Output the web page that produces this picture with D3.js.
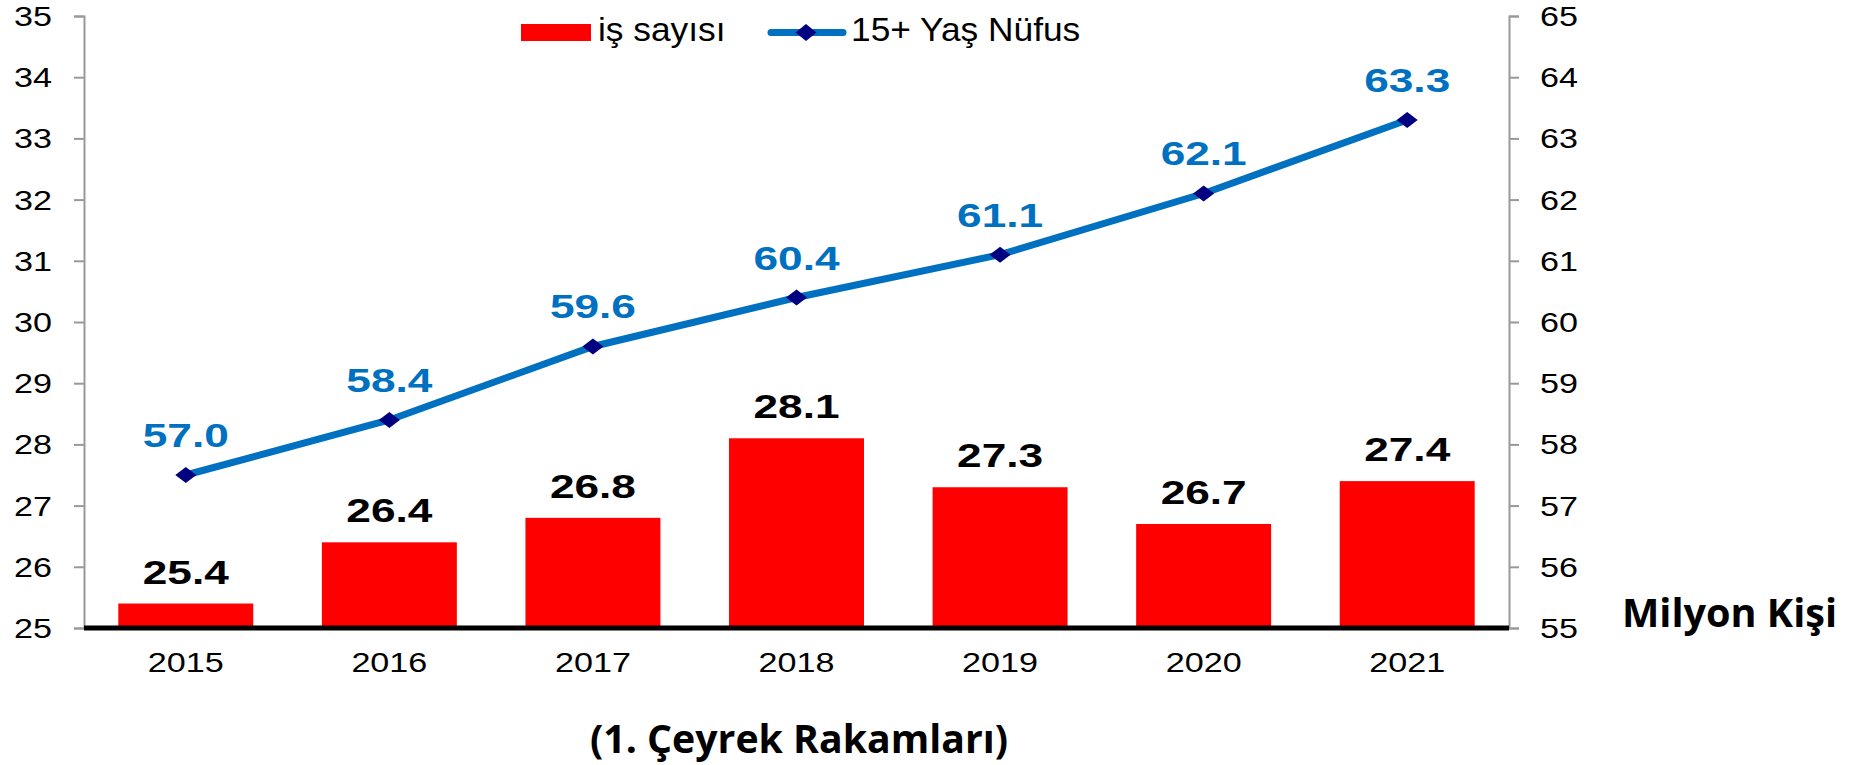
<!DOCTYPE html>
<html>
<head>
<meta charset="utf-8">
<script src="https://cdn.jsdelivr.net/npm/d3@7"></script>
<style>
  body { margin: 0; background: #fff; }
  text { font-family: "Liberation Sans", Arial, sans-serif; }
</style>
</head>
<body>
<div id="chart"></div>
<script>
// data
var years = ["2015", "2016", "2017", "2018", "2019", "2020", "2021"];
var jobs = [25.4, 26.4, 26.8, 28.1, 27.3, 26.7, 27.4];
var pop = [57.5, 58.4, 59.6, 60.4, 61.1, 62.1, 63.3];
var popLabels = ["57.0", "58.4", "59.6", "60.4", "61.1", "62.1", "63.3"];
var leftTicks = [25, 26, 27, 28, 29, 30, 31, 32, 33, 34, 35];
var rightTicks = [55, 56, 57, 58, 59, 60, 61, 62, 63, 64, 65];

var width = 1870, height = 765;
var plot = { left: 84, right: 1509, top: 16, bottom: 628 };
var sx = 1.22; // text in the original is stretched horizontally

var svg = d3.select("#chart")
    .append("svg")
    .attr("width", width)
    .attr("height", height);

var x = d3.scaleBand()
    .domain(years)
    .range([plot.left, plot.right])
    .paddingInner(0.337)
    .paddingOuter(0.1685);

var yL = d3.scaleLinear().domain([25, 35]).range([plot.bottom, plot.top]);
var yR = d3.scaleLinear().domain([55, 65]).range([plot.bottom, plot.top]);

// stretched text helper
function stext(g, px, py, str, size, weight, fill, anchor, k) {
    return g.append("text")
        .attr("transform", "translate(" + px + "," + py + ") scale(" + k + ",1)")
        .attr("text-anchor", anchor)
        .attr("font-size", size)
        .attr("font-weight", weight)
        .attr("fill", fill)
        .text(str);
}

// axes
svg.append("g")
    .attr("transform", "translate(" + plot.left + ",0)")
    .call(d3.axisLeft(yL).tickValues(leftTicks).tickSize(10).tickFormat(""));
svg.append("g")
    .attr("transform", "translate(" + plot.right + ",0)")
    .call(d3.axisRight(yR).tickValues(rightTicks).tickSize(10).tickFormat(""));
svg.selectAll(".domain, .tick line")
    .attr("stroke", "#999")
    .attr("stroke-width", 2);

leftTicks.forEach(function (t) {
    stext(svg, plot.left - 32, yL(t) + 10, t, 28, "normal", "#000", "end", sx);
});
rightTicks.forEach(function (t) {
    stext(svg, plot.right + 31, yR(t) + 10, t, 28, "normal", "#000", "start", sx);
});

// bars
svg.selectAll(".bar")
    .data(jobs)
    .enter().append("rect")
    .attr("class", "bar")
    .attr("x", function (d, i) { return x(years[i]); })
    .attr("y", function (d) { return yL(d); })
    .attr("width", x.bandwidth())
    .attr("height", function (d) { return yL(25) - yL(d); })
    .attr("fill", "#FF0000");

jobs.forEach(function (d, i) {
    stext(svg, x(years[i]) + x.bandwidth() / 2, yL(d) - 20, d.toFixed(1), 34, "bold", "#000", "middle", 1.3);
});

// baseline
svg.append("line")
    .attr("x1", plot.left).attr("x2", plot.right)
    .attr("y1", plot.bottom).attr("y2", plot.bottom)
    .attr("stroke", "#000")
    .attr("stroke-width", 5);

years.forEach(function (yr) {
    stext(svg, x(yr) + x.bandwidth() / 2, 672, yr, 28, "normal", "#000", "middle", sx);
});

// line
var line = d3.line()
    .x(function (d, i) { return x(years[i]) + x.bandwidth() / 2; })
    .y(function (d) { return yR(d); });

svg.append("path")
    .datum(pop)
    .attr("fill", "none")
    .attr("stroke", "#0070C0")
    .attr("stroke-width", 7)
    .attr("d", line);

function diamond(cx, cy, w, h) {
    return "M" + (cx - w) + "," + cy + "L" + cx + "," + (cy - h) +
        "L" + (cx + w) + "," + cy + "L" + cx + "," + (cy + h) + "Z";
}

svg.selectAll(".pt")
    .data(pop)
    .enter().append("path")
    .attr("class", "pt")
    .attr("d", function (d, i) { return diamond(x(years[i]) + x.bandwidth() / 2, yR(d), 10.5, 8); })
    .attr("fill", "#000080");

pop.forEach(function (d, i) {
    stext(svg, x(years[i]) + x.bandwidth() / 2, yR(d) - 28, popLabels[i], 34, "bold", "#0070C0", "middle", 1.3);
});

// legend
svg.append("rect")
    .attr("x", 521).attr("y", 24)
    .attr("width", 70).attr("height", 17)
    .attr("fill", "#FF0000");
stext(svg, 598, 41, "iş sayısı", 33, "normal", "#000", "start", 1.07);

svg.append("line")
    .attr("x1", 771).attr("x2", 843)
    .attr("y1", 32.5).attr("y2", 32.5)
    .attr("stroke", "#0070C0")
    .attr("stroke-width", 7)
    .attr("stroke-linecap", "round");
svg.append("path")
    .attr("d", diamond(806, 32.5, 10.5, 8.5))
    .attr("fill", "#000080");
stext(svg, 851, 41, "15+ Yaş Nüfus", 33, "normal", "#000", "start", 1.07);

// titles
svg.append("text")
    .attr("x", 1622).attr("y", 627)
    .style("font-family", "'Open Sans', sans-serif")
    .attr("font-weight", "bold")
    .attr("font-size", 40)
    .attr("textLength", 215)
    .attr("lengthAdjust", "spacingAndGlyphs")
    .text("Milyon Kişi");

svg.append("text")
    .attr("x", 590).attr("y", 753)
    .style("font-family", "'Open Sans', sans-serif")
    .attr("font-weight", "bold")
    .attr("font-size", 39)
    .attr("textLength", 418)
    .attr("lengthAdjust", "spacingAndGlyphs")
    .text("(1. Çeyrek Rakamları)");
</script>
</body>
</html>
